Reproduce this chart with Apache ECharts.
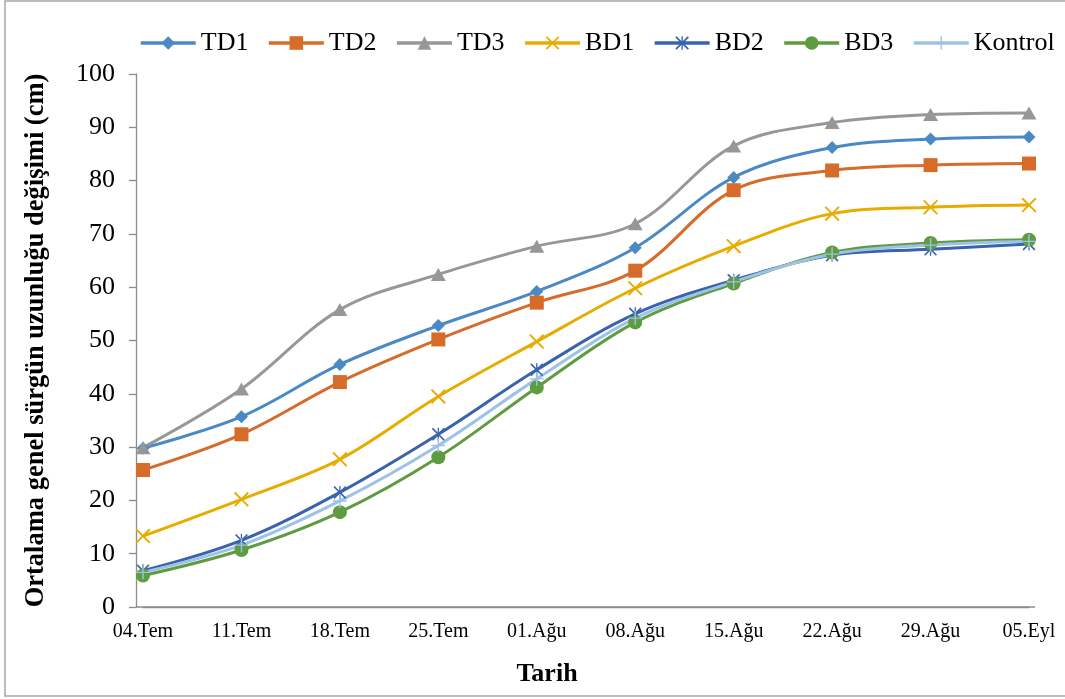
<!DOCTYPE html>
<html><head><meta charset="utf-8">
<script src="https://cdn.jsdelivr.net/npm/echarts@6/dist/echarts.min.js"></script>
<style>html,body{margin:0;padding:0;background:#fff}#c{width:1065px;height:699px}</style>
</head><body><div id="c"></div><script>
const categories = ['04.Tem','11.Tem','18.Tem','25.Tem','01.Ağu','08.Ağu','15.Ağu','22.Ağu','29.Ağu','05.Eyl'];
const TD1 = [29.8, 35.7, 45.5, 52.8, 59.2, 67.4, 80.6, 86.2, 87.8, 88.2];
const TD2 = [25.7, 32.4, 42.2, 50.2, 57.1, 63.1, 78.2, 81.9, 82.9, 83.2];
const TD3 = [29.9, 40.9, 55.8, 62.4, 67.7, 71.9, 86.5, 90.9, 92.4, 92.7];
const BD1 = [13.3, 20.2, 27.7, 39.5, 49.8, 59.8, 67.7, 73.8, 75.0, 75.4];
const BD2 = [6.8, 12.5, 21.5, 32.4, 44.5, 55.0, 61.3, 66.0, 67.1, 68.1];
const BD3 = [5.9, 10.7, 17.8, 28.1, 41.2, 53.4, 60.7, 66.5, 68.3, 68.9];
const Kontrol = [6.5, 11.6, 19.9, 30.3, 42.8, 54.2, 61.0, 66.2, 67.9, 68.6];
const seriesNames = ['TD1','TD2','TD3','BD1','BD2','BD3','Kontrol'];
const yTicks = {min: 0, max: 100, interval: 10};

const FONT = '"Liberation Serif", "Times New Roman", serif';
const X_PATH = 'path://M0,0.09 L0.09,0 L1,0.91 L0.91,1 Z M0.91,0 L1,0.09 L0.09,1 L0,0.91 Z';
const AST_PATH = 'path://M0,0.09 L0.09,0 L1,0.91 L0.91,1 Z M0.91,0 L1,0.09 L0.09,1 L0,0.91 Z M0.45,0 L0.55,0 L0.55,1 L0.45,1 Z';
const PLUS_PATH = 'path://M0.45,0 L0.55,0 L0.55,1 L0.45,1 Z M0,0.45 L1,0.45 L1,0.55 L0,0.55 Z';

const styles = {
  TD1: {color: '#4A89C3', symbol: 'diamond', size: 13},
  TD2: {color: '#D66B2A', symbol: 'rect', size: 14},
  TD3: {color: '#979797', symbol: 'triangle', size: [15, 13]},
  BD1: {color: '#E8AC00', symbol: X_PATH, size: 15},
  BD2: {color: '#3A63AE', symbol: AST_PATH, size: 13},
  BD3: {color: '#5F9B3F', symbol: 'circle', size: 14},
  Kontrol: {color: '#9DC2E6', symbol: PLUS_PATH, size: 14}
};
const dataMap = {TD1, TD2, TD3, BD1, BD2, BD3, Kontrol};

const gridL = 143, gridR = 36, gridT = 74, gridB = 92, yOff = 7;

const chart = echarts.init(document.getElementById('c'), null, {renderer: 'canvas'});
chart.setOption({
  backgroundColor: '#fff',
  animation: false,
  textStyle: {fontFamily: FONT, color: '#000'},
  legend: {
    left: 139, top: 30, width: 960, padding: 0,
    itemWidth: 55, itemHeight: 17, itemGap: 18.7,
    lineStyle: {width: 3.5},
    textStyle: {fontFamily: FONT, fontSize: 26, color: '#000'},
    data: seriesNames
  },
  grid: {left: gridL, right: gridR, top: gridT, bottom: gridB, containLabel: false},
  xAxis: {
    type: 'category', data: categories, boundaryGap: false,
    axisLine: {lineStyle: {color: '#8c8c8c', width: 1.3}},
    axisTick: {show: false},
    axisLabel: {fontFamily: FONT, fontSize: 20, color: '#000', margin: 15, interval: 0},
    name: 'Tarih', nameLocation: 'middle', nameGap: 54,
    nameTextStyle: {fontFamily: FONT, fontSize: 26, fontWeight: 'bold', color: '#000', padding: [0, 78, 0, 0]}
  },
  yAxis: {
    type: 'value', min: yTicks.min, max: yTicks.max, interval: yTicks.interval, offset: yOff,
    axisLine: {show: true, lineStyle: {color: '#8c8c8c', width: 1.3}},
    axisTick: {show: true, length: 7, lineStyle: {color: '#8c8c8c', width: 1.3}},
    splitLine: {show: false},
    axisLabel: {fontFamily: FONT, fontSize: 26, color: '#000', margin: 21},
    name: 'Ortalama genel sürgün uzunluğu değişimi (cm)', nameLocation: 'middle', nameGap: 86,
    nameTextStyle: {fontFamily: FONT, fontSize: 26.5, fontWeight: 'bold', color: '#000'}
  },
  graphic: [
    {type: 'rect', shape: {x: 5, y: 1, width: 1070, height: 695}, style: {fill: 'none', stroke: '#a6a6a6', lineWidth: 1.5}, silent: true, z: 0},
    {type: 'line', shape: {x1: gridL - yOff, y1: 699 - gridB, x2: 1065 - gridR + 6, y2: 699 - gridB}, style: {stroke: '#8c8c8c', lineWidth: 1.3}, silent: true}
  ],
  series: seriesNames.map(n => ({
    name: n, type: 'line', data: dataMap[n], smooth: 0.35,
    symbol: styles[n].symbol, symbolSize: styles[n].size, showSymbol: true,
    lineStyle: {width: 3, color: styles[n].color},
    itemStyle: {color: styles[n].color},
    emphasis: {disabled: true}
  }))
});
</script></body></html>
